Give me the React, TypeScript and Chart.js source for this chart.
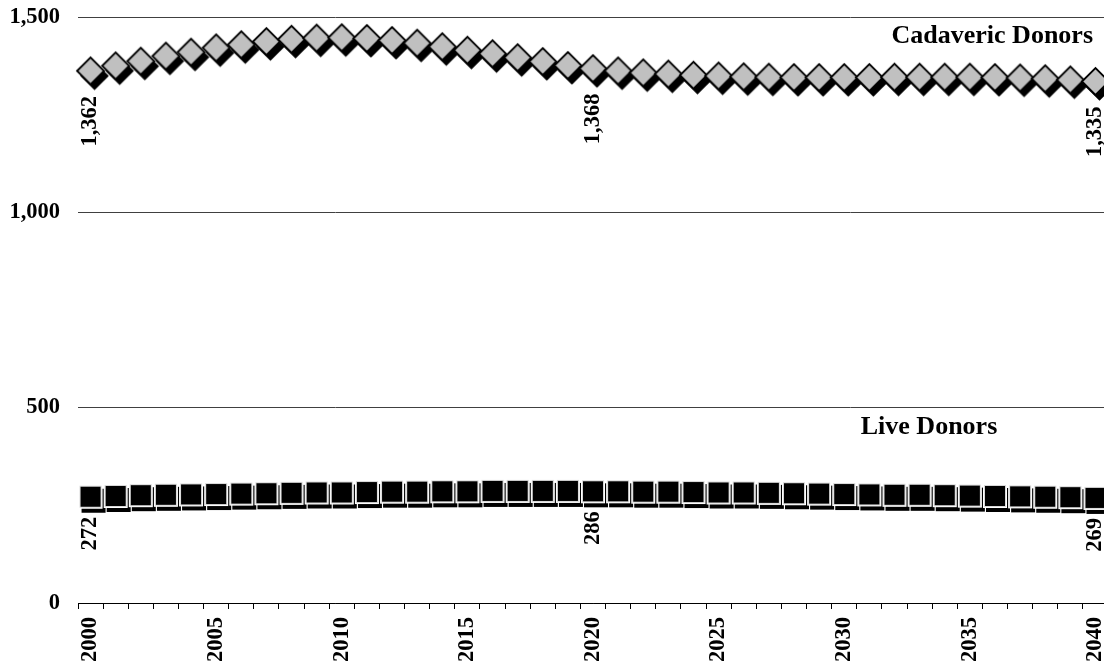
import React, { useEffect, useRef } from 'react';
import { Chart, registerables } from 'chart.js';

Chart.register(...registerables);

const YEARS = [
  '2000', '2001', '2002', '2003', '2004', '2005', '2006', '2007', '2008', '2009',
  '2010', '2011', '2012', '2013', '2014', '2015', '2016', '2017', '2018', '2019',
  '2020', '2021', '2022', '2023', '2024', '2025', '2026', '2027', '2028', '2029',
  '2030', '2031', '2032', '2033', '2034', '2035', '2036', '2037', '2038', '2039',
  '2040',
];

const CADAVERIC = [
  1362, 1375, 1387, 1400, 1410, 1421, 1429, 1437, 1443, 1446,
  1447, 1445, 1440, 1433, 1424, 1415, 1406, 1396, 1386, 1376,
  1368, 1362, 1357, 1354, 1351, 1349, 1347, 1346, 1345, 1345,
  1345, 1345, 1346, 1346, 1346, 1346, 1345, 1344, 1342, 1339,
  1335,
];

const LIVE = [
  272, 274, 276, 277, 278, 279, 280, 281, 282, 283,
  283, 284, 285, 285, 286, 286, 287, 287, 287, 287,
  286, 286, 285, 285, 284, 283, 283, 282, 281, 280,
  279, 278, 277, 277, 276, 275, 274, 273, 272, 271,
  269,
];

const LABELLED_INDEXES = [0, 20, 40];
const SERIES_NAMES = ['Cadaveric Donors', 'Live Donors'];
const Y_MIN = 0;
const Y_MAX = 1500;
const Y_STEP = 500;

const FONT = "'Liberation Serif', 'Times New Roman', serif";

function makeDiamond(): HTMLCanvasElement {
  const r = 13.5;
  const dx = 4;
  const dy = 5;
  const S = 2 * (r + 6 + 3);
  const c = document.createElement('canvas');
  c.width = S;
  c.height = S;
  const g = c.getContext('2d')!;
  const m = S / 2;
  const path = (cx: number, cy: number, rr: number) => {
    g.beginPath();
    g.moveTo(cx - rr, cy);
    g.lineTo(cx, cy - rr);
    g.lineTo(cx + rr, cy);
    g.lineTo(cx, cy + rr);
    g.closePath();
  };
  path(m + dx, m + dy, r + 0.8);
  g.fillStyle = '#000';
  g.fill();
  path(m, m, r);
  g.fillStyle = '#c0c0c0';
  g.fill();
  g.lineWidth = 1.8;
  g.strokeStyle = '#000';
  g.lineJoin = 'miter';
  g.stroke();
  return c;
}

function makeSquare(): HTMLCanvasElement {
  const inner = 10;
  const outer = 12;
  const dx = 3;
  const dy = 4;
  const S = 2 * (outer + 6 + 2);
  const c = document.createElement('canvas');
  c.width = S;
  c.height = S;
  const g = c.getContext('2d')!;
  const m = S / 2;
  g.fillStyle = '#000';
  g.fillRect(m - outer + dx, m - outer + dy, 2 * outer, 2 * outer);
  g.fillStyle = '#ffffff';
  g.fillRect(m - outer, m - outer, 2 * outer, 2 * outer);
  g.fillStyle = '#000';
  g.fillRect(m - inner, m - inner, 2 * inner, 2 * inner);
  g.lineWidth = 1;
  g.strokeStyle = '#d8d8d8';
  g.strokeRect(m - inner - 0.5, m - inner - 0.5, 2 * inner + 1, 2 * inner + 1);
  return c;
}

const labelPlugin = {
  id: 'donorLabels',
  afterDatasetsDraw(chart: any) {
    const ctx = chart.ctx as CanvasRenderingContext2D;
    const offsets = [25, 20];
    ctx.save();
    ctx.fillStyle = '#000';
    ctx.font = `bold 22.5px ${FONT}`;
    chart.data.datasets.forEach((ds: any, di: number) => {
      const meta = chart.getDatasetMeta(di);
      LABELLED_INDEXES.forEach((i) => {
        const el = meta.data[i];
        if (!el) return;
        const v = ds.data[i] as number;
        ctx.save();
        ctx.translate(el.x, el.y + offsets[di]);
        ctx.rotate(-Math.PI / 2);
        ctx.textAlign = 'right';
        ctx.textBaseline = 'middle';
        ctx.fillText(v.toLocaleString('en-US'), 0, 0);
        ctx.restore();
      });
    });
    const area = chart.chartArea;
    ctx.font = `bold 26px ${FONT}`;
    ctx.textBaseline = 'alphabetic';
    ctx.textAlign = 'right';
    ctx.fillText(SERIES_NAMES[0], area.right - 15, area.top + 26);
    ctx.textAlign = 'center';
    ctx.fillText(SERIES_NAMES[1], area.left + 851, area.top + 417);
    ctx.restore();
  },
};

export default function App() {
  const ref = useRef<HTMLCanvasElement | null>(null);

  useEffect(() => {
    if (!ref.current) return;
    const diamond = makeDiamond();
    const square = makeSquare();
    const chart = new Chart(ref.current, {
      type: 'line',
      data: {
        labels: YEARS,
        datasets: [
          {
            label: SERIES_NAMES[0],
            data: CADAVERIC,
            showLine: false,
            pointStyle: diamond as any,
            pointRadius: 14,
            pointHoverRadius: 14,
          },
          {
            label: SERIES_NAMES[1],
            data: LIVE,
            showLine: false,
            pointStyle: square as any,
            pointRadius: 12,
            pointHoverRadius: 12,
          },
        ],
      },
      options: {
        animation: false,
        responsive: false,
        maintainAspectRatio: false,
        devicePixelRatio: 1,
        events: [],
        layout: { autoPadding: false, padding: { top: 17, left: 0, right: 0, bottom: 0 } },
        plugins: {
          legend: { display: false },
          tooltip: { enabled: false },
          title: { display: false },
        },
        scales: {
          x: {
            type: 'category',
            offset: true,
            grid: {
              offset: true,
              drawOnChartArea: false,
              drawTicks: true,
              tickLength: 6,
              color: '#000',
              lineWidth: 1,
            },
            border: { display: true, color: '#000', width: 1 },
            ticks: {
              autoSkip: false,
              maxRotation: 90,
              minRotation: 90,
              padding: 8,
              color: '#000',
              font: { family: FONT, size: 22.5, weight: 'bold' },
              callback: (_v: any, i: number) => (Number(YEARS[i]) % 5 === 0 ? YEARS[i] : ''),
            },
            afterFit: (scale: any) => {
              scale.height = 64;
              scale.paddingLeft = 0;
              scale.paddingRight = 0;
            },
          },
          y: {
            min: Y_MIN,
            max: Y_MAX,
            grid: {
              drawTicks: false,
              color: '#404040',
              lineWidth: 1,
            },
            border: { display: false },
            ticks: {
              stepSize: Y_STEP,
              padding: 18,
              color: '#000',
              font: { family: FONT, size: 22.5, weight: 'bold' },
              callback: (v: any) => Number(v).toLocaleString('en-US'),
            },
            afterFit: (scale: any) => {
              scale.width = 78;
              scale.paddingTop = 0;
              scale.paddingBottom = 0;
            },
          },
        },
      } as any,
      plugins: [labelPlugin],
    });
    return () => chart.destroy();
  }, []);

  return (
    <div
      style={{
        position: 'fixed',
        left: 0,
        top: 0,
        width: 1104,
        height: 667,
        overflow: 'hidden',
        background: '#fff',
      }}
    >
      <canvas ref={ref} width={1108} height={667} style={{ display: 'block' }} />
    </div>
  );
}
